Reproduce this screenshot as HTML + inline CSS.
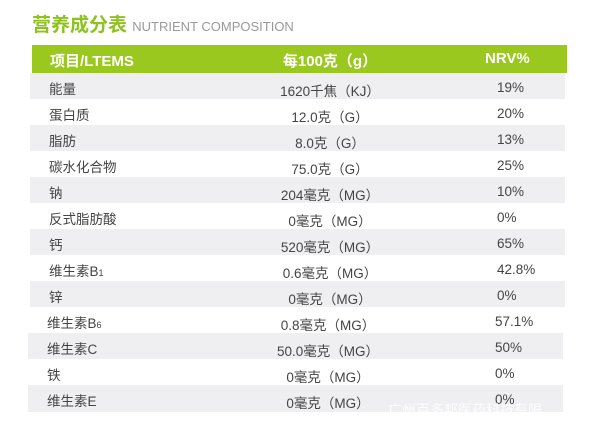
<!DOCTYPE html>
<html><head><meta charset="utf-8"><style>
body{margin:0;width:600px;height:432px;background:#fff;font-family:"Liberation Sans","Noto Sans CJK SC",sans-serif;position:relative;overflow:hidden}
.t{position:absolute;left:32px;top:10px;font-size:19px;font-weight:bold;color:#8dc21f}
.t span{font-size:13px;font-weight:normal;color:#999;letter-spacing:0}
.hd{position:absolute;left:32px;top:45px;width:535px;height:28px;background:#9bc81e;color:#fff;font-size:15px;font-weight:bold}
.r{position:absolute;left:30px;width:535px;height:26px;font-size:13.5px;color:#444}
.g{background:#efeff2}
.c1{position:absolute;left:19px;top:5px}
.c2{position:absolute;left:200px;width:200px;text-align:center;top:7px}
.c3{position:absolute;left:467px;width:65px;text-align:left;top:7px}
.hd .c1{left:18px;top:5px}.hd .c2{top:5px;left:198px}.hd .c3{left:453px;top:5px}
.wm{position:absolute;left:388px;top:400px;color:#fff;font-size:14px;opacity:.9}
</style></head><body>
<div class="t">营养成分表 <span>NUTRIENT COMPOSITION</span></div>
<div class="hd"><div class="c1">项目/LTEMS</div><div class="c2">每100克（g）</div><div class="c3">NRV%</div></div>
<div class="r g" style="top:73px"><div class="c1">能量</div><div class="c2">1620千焦（KJ）</div><div class="c3">19%</div></div>
<div class="r" style="top:99px"><div class="c1">蛋白质</div><div class="c2">12.0克（G）</div><div class="c3">20%</div></div>
<div class="r g" style="top:125px"><div class="c1">脂肪</div><div class="c2">8.0克（G）</div><div class="c3">13%</div></div>
<div class="r" style="top:151px"><div class="c1">碳水化合物</div><div class="c2">75.0克（G）</div><div class="c3">25%</div></div>
<div class="r g" style="top:177px"><div class="c1">钠</div><div class="c2">204毫克（MG）</div><div class="c3">10%</div></div>
<div class="r" style="top:203px"><div class="c1">反式脂肪酸</div><div class="c2">0毫克（MG）</div><div class="c3">0%</div></div>
<div class="r g" style="top:229px"><div class="c1">钙</div><div class="c2">520毫克（MG）</div><div class="c3">65%</div></div>
<div class="r" style="top:255px"><div class="c1">维生素B<small style="font-size:9px">1</small></div><div class="c2">0.6毫克（MG）</div><div class="c3">42.8%</div></div>
<div class="r g" style="top:281px"><div class="c1">锌</div><div class="c2">0毫克（MG）</div><div class="c3">0%</div></div>
<div class="r" style="top:307px;left:28px"><div class="c1">维生素B<small style="font-size:9px">6</small></div><div class="c2">0.8毫克（MG）</div><div class="c3">57.1%</div></div>
<div class="r g" style="top:333px;left:28px"><div class="c1">维生素C</div><div class="c2">50.0毫克（MG）</div><div class="c3">50%</div></div>
<div class="r" style="top:359px;left:28px"><div class="c1">铁</div><div class="c2">0毫克（MG）</div><div class="c3">0%</div></div>
<div class="r g" style="top:385px;left:28px;height:27px"><div class="c1">维生素E</div><div class="c2">0毫克（MG）</div><div class="c3">0%</div></div>
<div class="wm">广州百多邦医药科技有限</div>
</body></html>
